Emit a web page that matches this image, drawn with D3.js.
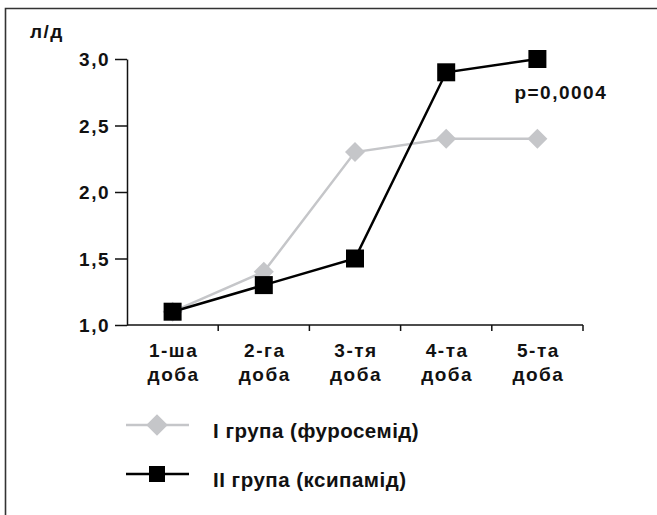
<!DOCTYPE html>
<html>
<head>
<meta charset="utf-8">
<script src="https://cdn.jsdelivr.net/npm/d3@7"></script>
<style>
  body { margin: 0; background: #fff; }
  text { font-family: "Liberation Sans", Arial, sans-serif; font-weight: bold; fill: #111; }
</style>
</head>
<body>
<div id="chart"></div>
<script>
const days = ["1-ша доба", "2-га доба", "3-тя доба", "4-та доба", "5-та доба"];
const group1 = [1.1, 1.4, 2.3, 2.4, 2.4];   // І група (фуросемід)
const group2 = [1.1, 1.3, 1.5, 2.9, 3.0];   // ІІ група (ксипамід)
const yTicks = [1.0, 1.5, 2.0, 2.5, 3.0];
const seriesNames = ["І група (фуросемід)", "ІІ група (ксипамід)"];

const W = 657, H = 515;
const margin = {top: 59, left: 127, right: 74, bottom: 190};
const width = W - margin.left - margin.right,
      height = H - margin.top - margin.bottom;

const fs = "19px", ls = "1.5px";

const root = d3.select("#chart").append("svg")
  .attr("width", W).attr("height", H);

// рамка (видно лише верх і ліво)
root.append("path")
  .attr("d", `M5.5,${H} L5.5,8.5 L${W},8.5`)
  .attr("fill", "none").attr("stroke", "#333").attr("stroke-width", 1.6);

const svg = root.append("g")
  .attr("transform", `translate(${margin.left},${margin.top})`);

const x = d3.scaleBand().domain(days).range([0, width]);
const y = d3.scaleLinear().domain([1, 3]).range([height, 0]);
const fmt = d => d3.format(".1f")(d).replace(".", ",");

// вісь y
const yAxis = svg.append("g")
  .call(d3.axisLeft(y).tickValues(yTicks).tickFormat(fmt).tickSize(12).tickSizeOuter(0).tickPadding(5));
yAxis.select(".domain").attr("stroke", "#111").attr("stroke-width", 1.5);
yAxis.selectAll(".tick line").attr("stroke", "#111").attr("stroke-width", 1.5);
yAxis.selectAll(".tick text")
  .style("font-size", fs).style("letter-spacing", ls)
  .attr("fill", "#111").attr("dy", "0.35em");

// вісь x
const xAxis = svg.append("g").attr("transform", `translate(0,${height})`);
xAxis.append("line")
  .attr("x1", 0).attr("x2", width)
  .attr("stroke", "#111").attr("stroke-width", 1.5);
xAxis.selectAll(".xt")
  .data(days)
  .enter().append("line")
  .attr("x1", d => x(d) + x.bandwidth()).attr("x2", d => x(d) + x.bandwidth())
  .attr("y1", 0).attr("y2", 6)
  .attr("stroke", "#111").attr("stroke-width", 1.5);
const xl = xAxis.selectAll(".xl")
  .data(days)
  .enter().append("text")
  .attr("text-anchor", "middle")
  .style("font-size", fs).style("letter-spacing", ls);
xl.append("tspan").attr("x", d => x(d) + x.bandwidth() / 2 + 1).attr("y", 32)
  .text(d => d.split(" ")[0]);
xl.append("tspan").attr("x", d => x(d) + x.bandwidth() / 2 + 1).attr("y", 56)
  .text(d => d.split(" ")[1]);

// одиниці
root.append("text").attr("x", 30).attr("y", 38)
  .style("font-size", fs).style("letter-spacing", ls).text("л/д");

const cx = (d, i) => x(days[i]) + x.bandwidth() / 2;
const line = d3.line().x(cx).y(d => y(d));

const grey = "#c5c6c9";

// група І
svg.append("path").datum(group1)
  .attr("d", line).attr("fill", "none")
  .attr("stroke", grey).attr("stroke-width", 2.5);
svg.selectAll(".g1")
  .data(group1).enter().append("path")
  .attr("d", d3.symbol(d3.symbolSquare, 200)())
  .attr("transform", (d, i) => `translate(${cx(d, i)},${y(d)}) rotate(45)`)
  .attr("fill", grey);

// група ІІ
svg.append("path").datum(group2)
  .attr("d", line).attr("fill", "none")
  .attr("stroke", "#000").attr("stroke-width", 2.5);
svg.selectAll(".g2")
  .data(group2).enter().append("rect")
  .attr("x", (d, i) => cx(d, i) - 9).attr("y", d => y(d) - 9)
  .attr("width", 18).attr("height", 18)
  .attr("fill", "#000");

// p
svg.append("text")
  .attr("x", cx(group2[4], 4) - 23).attr("y", y(group2[4]) + 40)
  .style("font-size", fs).style("letter-spacing", ls).text("p=0,0004");

// легенда
const legend = root.append("g").attr("transform", "translate(126,425)");
legend.append("line").attr("x1", 0).attr("x2", 63)
  .attr("stroke", grey).attr("stroke-width", 2.5);
legend.append("path")
  .attr("d", d3.symbol(d3.symbolSquare, 230)())
  .attr("transform", "translate(31,0) rotate(45)").attr("fill", grey);
legend.append("text").attr("x", 87).attr("y", 13)
  .style("font-size", "20.5px").style("letter-spacing", "0.5px").text(seriesNames[0]);

legend.append("line").attr("x1", 0).attr("x2", 63).attr("y1", 49).attr("y2", 49)
  .attr("stroke", "#000").attr("stroke-width", 2.5);
legend.append("rect").attr("x", 23).attr("y", 41).attr("width", 16).attr("height", 16)
  .attr("fill", "#000");
legend.append("text").attr("x", 87).attr("y", 62)
  .style("font-size", "20.5px").style("letter-spacing", "0.5px").text(seriesNames[1]);
</script>
</body>
</html>
